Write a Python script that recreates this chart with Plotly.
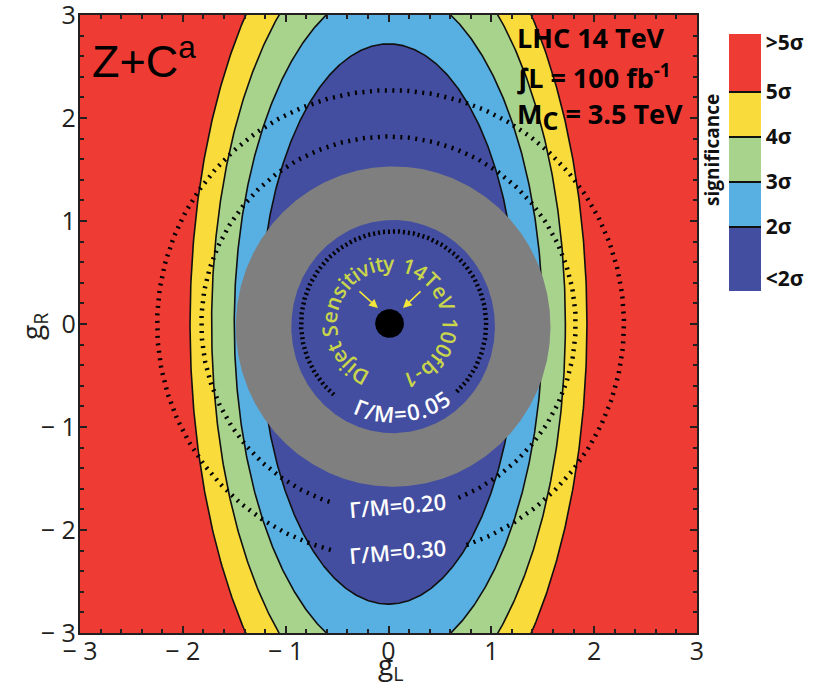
import numpy as np
import plotly.graph_objects as go

# ---------------- data ----------------
# significance contour boundaries (ellipses centred at 0): semi-axis along gL, along gR
band_labels = ["5σ", "4σ", "3σ", "2σ"]
band_a = [1.93, 1.72, 1.50, 1.25]
band_b = [4.32, 3.82, 3.28, 2.72]

# colour scale of significance (outer -> inner)
sig_colors = ["#EE3B34", "#F9DB3C", "#A8D38D", "#58AFE2", "#434EA0"]
sig_ticktext = ["<2σ", "2σ", "3σ", "4σ", "5σ", ">5σ"]
sig_bounds = [0.249, 0.424, 0.599, 0.774]          # colour-bar band edges (fraction)
sig_tickvals = [0.05, 0.249, 0.424, 0.599, 0.774, 0.965]

# Γ/M iso-width circles
gm_labels = ["Γ/M=0.05", "Γ/M=0.20", "Γ/M=0.30"]
gm_radius = [0.90, 1.82, 2.27]
gm_cx = [0.05, 0.0, 0.02]
gm_gap = [(-130, -47), (-108, -68), (-104, -71)]

# dijet sensitivity ring
ring_center = (0.045, -0.025)
ring_outer = (1.53, 1.555)
ring_inner = (0.99, 1.035)
dijet_text = "Dijet Sensitivity 14TeV 100fb-1"
dot_center = (0.01, 0.005)
dot_radius = 0.14

axis_ticks = [-3, -2, -1, 0, 1, 2, 3]

# ---------------- figure ----------------
W, H = 824, 690
L, R, T, B = 80, 697, 15, 633


def px(xp):
    return (xp - L) / (R - L)


def py(yp):
    return (B - yp) / (B - T)


def ellipse(cx, cy, a, b, n=721):
    t = np.linspace(0, 2 * np.pi, n)
    return cx + a * np.cos(t), cy + b * np.sin(t)


fig = go.Figure()

# dummy heatmap only to carry the significance colour bar
eps = 0.004
cs = []
edges = [0.0] + sig_bounds + [1.0]
cols_bottom_up = sig_colors[::-1]
for i, c in enumerate(cols_bottom_up):
    lo = edges[i] + (eps if i > 0 else 0)
    hi = edges[i + 1] - (eps if i < len(cols_bottom_up) - 1 else 0)
    cs.append([lo, c])
    cs.append([hi, c])
    if i < len(cols_bottom_up) - 1:
        cs.append([hi, "#111111"])
        cs.append([edges[i + 1] + eps, "#111111"])
fig.add_trace(go.Heatmap(
    z=[[0, 1]], x=[10, 11], y=[10], zmin=0, zmax=1, colorscale=cs,
    hoverinfo="skip",
    colorbar=dict(
        thickness=32, thicknessmode="pixels", len=257, lenmode="pixels",
        x=px(729), xanchor="left", y=py(34), yanchor="top", xpad=0, ypad=0,
        outlinewidth=0, ticks="", tickvals=sig_tickvals, ticktext=sig_ticktext,
        tickfont=dict(family="Open Sans", size=21, color="#111111", weight="bold"),
    ),
))

# significance bands
for a, b, col in zip(band_a, band_b, sig_colors[1:]):
    ex, ey = ellipse(0, 0, a, b)
    fig.add_trace(go.Scatter(x=ex, y=ey, mode="lines", fill="toself", fillcolor=col,
                             line=dict(color="#111111", width=1.6),
                             hoverinfo="skip", showlegend=False))
# dijet ring
ex, ey = ellipse(ring_center[0], ring_center[1], *ring_outer)
fig.add_trace(go.Scatter(x=ex, y=ey, mode="lines", fill="toself", fillcolor="#7F7F7F",
                         line=dict(width=0, color="#7F7F7F"), hoverinfo="skip",
                         showlegend=False))
ex, ey = ellipse(ring_center[0], ring_center[1], *ring_inner)
fig.add_trace(go.Scatter(x=ex, y=ey, mode="lines", fill="toself", fillcolor=sig_colors[-1],
                         line=dict(width=0, color=sig_colors[-1]), hoverinfo="skip",
                         showlegend=False))

# dotted Γ/M circles with a gap for their label
for i, (r, cx, gap) in enumerate(zip(gm_radius, gm_cx, gm_gap)):
    t = np.radians(np.linspace(gap[1], gap[0] + 360, 400))
    dash = "2px,3px" if i == 0 else "2px,5.5px"
    fig.add_trace(go.Scatter(x=cx + r * np.cos(t), y=r * np.sin(t), mode="lines",
                             line=dict(color="black", width=4.5, dash=dash),
                             hoverinfo="skip", showlegend=False))

# central dot
ex, ey = ellipse(dot_center[0], dot_center[1], dot_radius, dot_radius, 181)
fig.add_trace(go.Scatter(x=ex, y=ey, mode="lines", fill="toself", fillcolor="black",
                         line=dict(width=0, color="black"), hoverinfo="skip",
                         showlegend=False))

ann = []
# curved dijet label
wtab = {"D": .73, "i": .26, "j": .26, "e": .56, "t": .35, " ": .26, "S": .55, "n": .61,
        "s": .48, "v": .5, "y": .5, "1": .57, "4": .57, "T": .55, "V": .6, "0": .57,
        "f": .34, "b": .61, "-": .32}
cum, centers = 0.0, []
for ch in dijet_text:
    w = wtab.get(ch, .55)
    centers.append(cum + w / 2)
    cum += w
th0, th1 = 241.0, -70.0
rr = 0.59
for ch, c in zip(dijet_text, centers):
    th = th0 + (c - centers[0]) / (centers[-1] - centers[0]) * (th1 - th0)
    if ch == " ":
        continue
    ann.append(dict(x=dot_center[0] + rr * np.cos(np.radians(th)),
                    y=dot_center[1] + rr * np.sin(np.radians(th)),
                    text=ch, showarrow=False, textangle=90 - th,
                    xanchor="center", yanchor="middle",
                    font=dict(family="Open Sans", size=21, color="#C9D64C", weight=600)))

# Γ/M = 0.05 curved along its circle
lab = gm_labels[0]
wt2 = {"Γ": .55, "/": .37, "M": .9, "=": .57, "0": .57, ".": .27, "5": .57}
cum, cen2 = 0.0, []
for ch in lab:
    w = wt2.get(ch, .55)
    cen2.append(cum + w / 2)
    cum += w
for ch, c in zip(lab, cen2):
    th = -111.6 + (c - cen2[0]) / (cen2[-1] - cen2[0]) * (54.6)
    ann.append(dict(x=gm_cx[0] + 0.87 * np.cos(np.radians(th)),
                    y=0.87 * np.sin(np.radians(th)), text=ch, showarrow=False,
                    textangle=-(th + 90), xanchor="center", yanchor="middle",
                    font=dict(family="Open Sans", size=22, color="white", weight=600)))
for lab, yv in zip(gm_labels[1:], [-1.76, -2.20]):
    ann.append(dict(x=0.09, y=yv, text=lab, showarrow=False, textangle=-5,
                    font=dict(family="Open Sans", size=22, color="white", weight=600)))

# arrows to the dot
for (x0, y0, x1, y1) in [(-0.297, 0.33, -0.103, 0.155), (0.326, 0.33, 0.141, 0.155)]:
    ann.append(dict(x=x1, y=y1, ax=x0, ay=y0, xref="x", yref="y", axref="x", ayref="y",
                    text="", showarrow=True, arrowhead=2, arrowsize=1.1, arrowwidth=1.6,
                    arrowcolor="#F3E63A"))

# text labels
ann.append(dict(x=px(90), y=py(58), xref="paper", yref="paper", xanchor="left",
                yanchor="middle", text="Z+C<sup>a</sup>", showarrow=False,
                font=dict(family="Liberation Sans", size=45, color="black")))
for txt, yy in [("LHC 14 TeV", 38), ("∫L = 100 fb<sup>-1</sup>", 76),
                ("M<sub><span style='font-size:25px'>C</span></sub> = 3.5 TeV", 116)]:
    ann.append(dict(x=px(515), y=py(yy), xref="paper", yref="paper", xanchor="left",
                    yanchor="middle", text=txt, showarrow=False,
                    font=dict(family="Open Sans", size=27, color="black", weight="bold")))
ann.append(dict(x=px(712), y=py(150), xref="paper", yref="paper", text="significance",
                textangle=-90, showarrow=False, xanchor="center", yanchor="middle",
                font=dict(family="Open Sans", size=19, color="#111111", weight="bold")))

# axis titles
ann.append(dict(x=px(390), y=py(689), xref="paper", yref="paper", text="g<sub>L</sub>",
                showarrow=False, xanchor="center", yanchor="bottom",
                font=dict(family="Open Sans", size=28, color="#231F20")))
ann.append(dict(x=px(33), y=py(327), xref="paper", yref="paper", text="g<sub>R</sub>",
                textangle=-90, showarrow=False, xanchor="center", yanchor="middle",
                font=dict(family="Open Sans", size=28, color="#231F20")))

axis_common = dict(
    range=[-3, 3], showgrid=False, zeroline=False, showline=True, linewidth=2.2,
    linecolor="#231F20", mirror="ticks", ticks="inside", ticklen=7, tickwidth=2,
    tickcolor="#231F20", tickvals=axis_ticks, automargin=False,
    ticklabeloverflow="allow",
    ticktext=[("− %d" % -v) if v < 0 else str(v) for v in axis_ticks],
    tickfont=dict(family="Open Sans", size=25, color="#231F20"),
    minor=dict(dtick=0.2, tick0=0, ticks="inside", ticklen=4, tickwidth=2,
               tickcolor="#231F20"),
)
fig.update_xaxes(**axis_common, ticklabelstandoff=-5)
fig.update_yaxes(**axis_common, ticklabelstandoff=-3)

fig.update_layout(
    width=W, height=H, margin=dict(l=L, r=W - R, t=T, b=H - B),
    paper_bgcolor="white", plot_bgcolor=sig_colors[0],
    annotations=ann, showlegend=False,
)
fig.write_html("out.html")
